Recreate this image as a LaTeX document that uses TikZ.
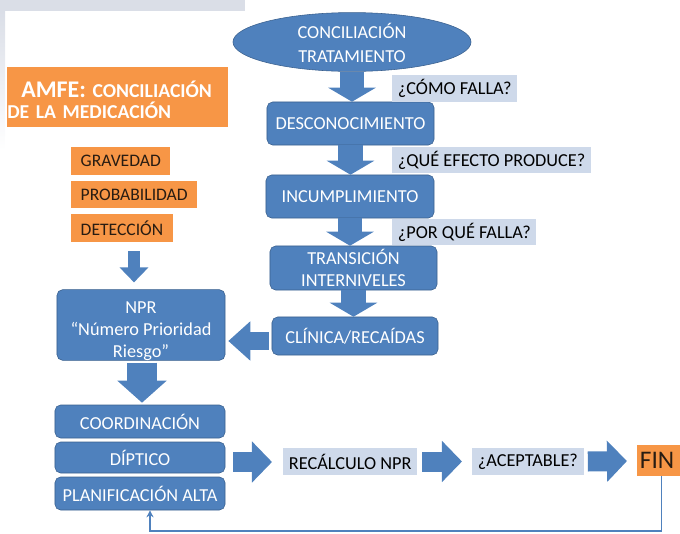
\documentclass[tikz,border=0pt]{standalone}
\usepackage{fontspec}
\setmainfont{Carlito}
\usetikzlibrary{shapes.geometric, arrows.meta, calc}
\definecolor{boxblue}{RGB}{79,129,189}
\definecolor{boxedge}{RGB}{58,96,142}
\definecolor{amfeorange}{RGB}{247,150,70}
\definecolor{lblgray}{RGB}{206,217,234}
\definecolor{slidegray}{RGB}{218,222,231}
\definecolor{darktext}{RGB}{40,28,18}
\tikzset{
  txt/.style={font=\fontsize{13}{15.5}\selectfont},
  blk/.style={txt, draw=boxedge, fill=boxblue, text=white, rounded corners=4pt, align=center, inner sep=0pt},
  lbl/.style={txt, fill=lblgray, text=black, inner xsep=4pt, inner ysep=0pt, minimum height=0.66cm, anchor=west},
  orng/.style={font=\fontsize{12.5}{15}\selectfont, fill=amfeorange, text=darktext, inner xsep=6.7pt, inner ysep=0pt, anchor=west},
  flow/.style={boxblue, line width=0.6cm, -{Triangle[length=0.35cm, width=1.175cm]}},
  smallflow/.style={boxblue, line width=0.3cm, -{Triangle[length=0.375cm, width=0.7cm]}},
  bigflow/.style={boxblue, line width=0.75cm, -{Triangle[length=0.55cm, width=1.2cm]}},
  sideflow/.style={boxblue, line width=0.45cm, -{Triangle[length=0.55cm, width=0.95cm]}},
  rightflow/.style={boxblue, line width=0.5cm, -{Triangle[length=0.5cm, width=1cm]}},
  back/.style={-{Stealth[length=5pt,width=5pt]}, boxblue, line width=1.1pt}
}

\begin{document}
\begin{tikzpicture}[x=0.025cm, y=-0.025cm]
  \useasboundingbox (0,0) rectangle (680,534);
  % slide background at the top left
  \fill[slidegray] (0,0) rectangle (245,11);
  \shade[top color=slidegray, bottom color=white] (0,11) rectangle (5,150);

  % failure chain
  \node[blk, ellipse, minimum width=5.95cm, minimum height=1.225cm] (trat) at (352,42) {\rule{0pt}{12pt}CONCILIACIÓN\\[2pt]TRATAMIENTO};
  \node[blk, minimum width=4.175cm, minimum height=1.075cm] (desc) at (350.5,123.5) {DESCONOCIMIENTO};
  \node[blk, minimum width=4.2cm, minimum height=1.075cm] (incu) at (350,196.5) {INCUMPLIMIENTO};
  \node[blk, minimum width=4.175cm, minimum height=1.1cm] (tran) at (353.5,268) {TRANSICIÓN\\INTERNIVELES};
  \node[blk, minimum width=4.15cm, minimum height=0.95cm] (clin) at (355,336) {CLÍNICA/RECAÍDAS};

  \draw[flow] (trat.south) -- (trat.south |- desc.north);
  \draw[flow] (desc.south) -- (desc.south |- incu.north);
  \draw[flow] (incu.south) -- (incu.south |- tran.north);
  \draw[flow] (tran.south) -- (tran.south |- clin.north);

  \node[lbl] (q1) at (392,88.5) {¿CÓMO FALLA?};
  \node[lbl] (q2) at (392,160) {¿QUÉ EFECTO PRODUCE?};
  \node[lbl] (q3) at (392,232) {¿POR QUÉ FALLA?};

  % AMFE side
  \node[fill=amfeorange, text=white, anchor=north west, text width=5.525cm, minimum height=1.5cm,
        inner sep=0pt, align=left, font=\bfseries\fontsize{14}{15}\selectfont] (amfe) at (7,67)
    {\rule{0pt}{15pt}\hspace*{10pt}{\fontsize{17}{15}\selectfont AMFE:} CONCILIACIÓN\\DE LA MEDICACIÓN};
  \node[orng, minimum height=0.7cm] (grav) at (71,161) {GRAVEDAD};
  \node[orng, minimum height=0.675cm] (prob) at (71,194.5) {PROBABILIDAD};
  \node[orng, minimum height=0.7cm] (dete) at (71,228) {DETECCIÓN};

  \node[blk, minimum width=4.2cm, minimum height=1.75cm] (npr) at (141,325)
    {\rule{0pt}{17pt}NPR\\“Número Prioridad\\Riesgo”};
  \draw[smallflow] ($(npr.north)+(-7,-38)$) -- ($(npr.north)+(-7,-7)$);
  \draw[sideflow] ($(clin.west)+(-3,5)$) -- ($(npr.east)+(3,16)$);

  % actions
  \node[blk, minimum width=4.25cm, minimum height=0.825cm] (coor) at (140,421.5) {COORDINACIÓN};
  \node[blk, minimum width=4.25cm, minimum height=0.775cm] (dipt) at (140,457.5) {DÍPTICO};
  \node[blk, minimum width=4.25cm, minimum height=0.825cm] (plan) at (140,493.5) {PLANIFICACIÓN ALTA};
  \draw[bigflow] ($(npr.south)+(1,2)$) -- ($(coor.north)+(2,-2)$);

  \node[lbl, minimum width=3.125cm] (reca) at (283,461.5) {RECÁLCULO NPR};
  \node[lbl, minimum width=2.775cm] (acep) at (472,461.5) {¿ACEPTABLE?};
  \node[fill=amfeorange, text=darktext, anchor=west, minimum width=1.2cm, minimum height=0.775cm,
        inner sep=0pt, font=\fontsize{18}{20}\selectfont] (fin) at (637,460.5) {FIN\hspace*{6pt}};
  \draw[rightflow] ($(dipt.east)+(8,4.5)$) -- ($(reca.west)+(-11,0.5)$);
  \draw[rightflow] ($(reca.east)+(5,0)$) -- ($(acep.west)+(-10,0)$);
  \draw[rightflow] ($(acep.east)+(4,0)$) -- ($(fin.west)+(-10,0.5)$);

  % back to the plan
  \coordinate (corner) at (150,531);
  \draw[back] (fin.south) |- (corner) -- (plan.south -| corner);
\end{tikzpicture}
\end{document}
